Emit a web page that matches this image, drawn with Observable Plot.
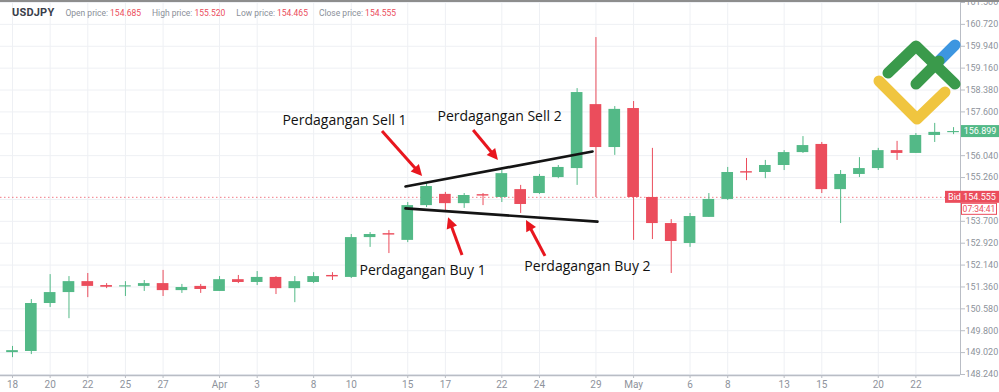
<!DOCTYPE html>
<html><head><meta charset="utf-8">
<script src="https://cdn.jsdelivr.net/npm/d3@7"></script>
<script src="https://cdn.jsdelivr.net/npm/@observablehq/plot@0.6"></script>
<style>
body{margin:0;background:#fff;}
#wrap{position:relative;width:999px;height:392px;overflow:hidden;font-family:Roboto,"Noto Sans",sans-serif;}
#topline{position:absolute;left:0;top:0;width:999px;height:2px;background:#8d8d8d;}
#hdr{position:absolute;left:12px;top:6px;font-size:8.5px;color:#8a8f99;white-space:nowrap;}
#hdr b{font-size:11px;color:#3a3e4a;margin-right:11px;letter-spacing:0.2px;}
#hdr span.l{margin-right:2px;}
#hdr span.v{color:#eb4d5c;margin-right:11px;}
#logo{position:absolute;left:0;top:0;}
</style></head><body>
<div id="wrap"><div id="chart"></div><div id="topline"></div>
<div id="hdr"><b>USDJPY</b><span class="l">Open price:</span><span class="v">154.685</span><span class="l">High price:</span><span class="v">155.520</span><span class="l">Low price:</span><span class="v">154.465</span><span class="l">Close price:</span><span class="v">154.555</span></div>
<svg id="logo" width="999" height="392">
<path d="M938,62 L955,45" stroke="#3d96e0" stroke-width="11" stroke-linecap="round" fill="none"/>
<path d="M879,81 L917,119 L945,92" stroke="#f0c53f" stroke-width="11" stroke-linecap="round" stroke-linejoin="round" fill="none"/>
<path d="M888,73 L916,46 L955,84" stroke="#3a9a4b" stroke-width="11" stroke-linecap="round" stroke-linejoin="round" fill="none"/>
<path d="M916,84 L939,61" stroke="#3a9a4b" stroke-width="11" stroke-linecap="round" fill="none"/>
</svg>
</div>
<script>
const dates = ["2024-03-18","2024-03-19","2024-03-20","2024-03-21","2024-03-22","2024-03-24","2024-03-25","2024-03-26","2024-03-27","2024-03-28","2024-03-29",
"2024-04-01","2024-04-02","2024-04-03","2024-04-04","2024-04-05","2024-04-08","2024-04-09","2024-04-10","2024-04-11","2024-04-12",
"2024-04-15","2024-04-16","2024-04-17","2024-04-18","2024-04-19","2024-04-22","2024-04-23","2024-04-24","2024-04-25","2024-04-26",
"2024-04-29","2024-04-30","2024-05-01","2024-05-02","2024-05-03","2024-05-06","2024-05-07","2024-05-08","2024-05-09","2024-05-10",
"2024-05-13","2024-05-14","2024-05-15","2024-05-16","2024-05-17","2024-05-20","2024-05-21","2024-05-22","2024-05-23","2024-05-24"];
const open  = [149.02,149.06,150.77,151.16,151.55,151.41,151.36,151.38,151.48,151.23,151.38,151.20,151.62,151.52,151.70,151.30,151.52,151.77,151.70,153.12,153.26,153.02,154.26,154.66,154.33,154.65,154.55,154.83,154.69,155.26,155.58,157.86,156.33,157.72,154.55,153.62,152.91,153.84,154.48,155.47,155.44,155.69,156.15,156.44,154.83,155.37,155.58,156.22,156.12,156.76,156.86];
const high  = [149.24,150.91,151.80,151.73,151.84,151.48,151.55,151.59,151.95,151.45,151.45,151.73,151.77,151.91,151.73,151.73,151.87,151.87,153.23,153.30,153.37,154.37,155.05,154.73,154.69,154.69,155.51,154.98,155.37,155.69,158.43,160.25,157.79,157.97,156.30,153.76,153.98,154.69,155.62,155.94,155.87,156.22,156.72,156.51,155.51,155.97,156.30,156.55,156.83,157.19,157.04];
const low   = [148.84,148.95,150.63,150.23,150.98,151.30,151.02,151.20,151.02,151.13,151.13,151.20,151.48,151.41,151.09,150.80,151.48,151.59,151.66,152.77,152.55,152.94,154.19,154.08,154.16,154.26,154.37,153.98,154.66,155.22,154.98,154.55,156.05,153.02,153.05,151.84,152.77,153.84,154.44,155.15,155.22,155.51,156.12,154.69,153.62,155.26,155.51,155.87,156.12,156.51,156.79];
const close = [149.09,150.77,151.16,151.55,151.38,151.35,151.40,151.48,151.23,151.34,151.27,151.62,151.52,151.70,151.30,151.55,151.73,151.72,153.12,153.23,153.21,154.26,154.94,154.33,154.62,154.60,155.40,154.30,155.30,155.62,158.29,156.33,157.69,154.55,153.62,152.98,153.87,154.48,155.44,155.42,155.69,156.15,156.40,154.83,155.37,155.58,156.22,156.12,156.76,156.87,156.90];

const tickDates  = ["2024-03-18","2024-03-20","2024-03-22","2024-03-25","2024-03-27","2024-04-01","2024-04-03","2024-04-08","2024-04-10","2024-04-15","2024-04-17","2024-04-22","2024-04-24","2024-04-29","2024-05-01","2024-05-06","2024-05-08","2024-05-13","2024-05-15","2024-05-20","2024-05-22"];
const tickLabels = ["18","20","22","25","27","Apr","3","8","10","15","17","22","24","29","May","6","8","13","15","20","22"];
const yGrid  = [161.5,160.72,159.94,159.16,158.38,157.6,156.82,156.04,155.26,154.48,153.7,152.92,152.14,151.36,150.58,149.8,149.02,148.24];
const yTicks = [161.5,160.72,159.94,159.16,158.38,157.6,156.04,155.26,153.7,152.92,152.14,151.36,150.58,149.8,149.02,148.24];

const bidPrice = 154.555;
const lastPrice = 156.899;
const timerText = "07:34:41";

// trend lines (candle index, price)
const upperLineX = [20.88, 30.82], upperLineY = [154.94, 156.19];
const lowerLineX = [20.88, 31.08], lowerLineY = [154.16, 153.69];

// annotations
const noteText = ["Perdagangan Sell 1","Perdagangan Sell 2","Perdagangan Buy 1","Perdagangan Buy 2"];
const noteX = [17.64, 25.88, 21.79, 30.55];
const noteY = [157.29, 157.44, 151.95, 152.09];
const arrowX1 = [19.66, 24.50, 23.91, 28.32], arrowY1 = [156.90, 156.94, 152.48, 152.45];
const arrowX2 = [21.79, 25.82, 23.17, 27.31], arrowY2 = [155.30, 155.87, 153.83, 153.73];

const UP = "#53b987", DOWN = "#eb4d5c";
const candles = dates.map((d, i) => ({i, d, o: open[i], h: high[i], l: low[i], c: close[i], col: close[i] >= open[i] ? UP : DOWN}));
const tickIdx = tickDates.map(d => dates.indexOf(d));
const xDom = [-0.638, 50.37], yDom = [148.204, 161.571];
const notes = noteText.map((t, k) => ({t, x: noteX[k], y: noteY[k]}));
const arrows = noteText.map((t, k) => ({x1: arrowX1[k], y1: arrowY1[k], x2: arrowX2[k], y2: arrowY2[k]}));
const trend = [
  ...upperLineX.map((x, k) => ({x, y: upperLineY[k], s: "u"})),
  ...lowerLineX.map((x, k) => ({x, y: lowerLineY[k], s: "l"}))
];

const chart = Plot.plot({
  width: 999, height: 392,
  marginTop: 0, marginBottom: 17, marginLeft: 0, marginRight: 39,
  style: {fontFamily: "Roboto, 'Noto Sans', sans-serif", fontSize: "10px", background: "transparent", overflow: "visible"},
  x: {type: "linear", domain: xDom, axis: null},
  y: {domain: yDom, axis: null},
  color: {type: "identity"},
  marks: [
    Plot.ruleX(tickIdx, {x: d => d, y1: yDom[0], y2: yDom[1], stroke: "#eef0f4"}),
    Plot.ruleY(yGrid, {y: d => d, x1: xDom[0], x2: xDom[1], stroke: "#eef0f4"}),
    Plot.ruleY([bidPrice], {x1: xDom[0], x2: xDom[1], stroke: DOWN, strokeDasharray: "1.5,2.5", strokeOpacity: 0.75}),
    Plot.ruleX(candles, {x: "i", y1: "l", y2: "h", stroke: "col", strokeWidth: 1}),
    Plot.rect(candles, {x1: d => d.i - 0.31, x2: d => d.i + 0.31, y1: "o", y2: "c", fill: "col"}),
    Plot.line(trend, {x: "x", y: "y", z: "s", stroke: "#141414", strokeWidth: 2.6}),
    Plot.ruleX([xDom[1]], {y1: yDom[0], y2: yDom[1], stroke: "#b9bdc5"}),
    Plot.ruleY([yDom[0]], {x1: xDom[0], x2: xDom[1], stroke: "#b9bdc5", strokeWidth: 1.5}),
    Plot.axisX(tickIdx, {x: d => d, tickSize: 3, tickPadding: 2, stroke: "#b9bdc5", fill: "#8e939c",
      tickFormat: v => tickLabels[tickIdx.indexOf(v)], fontSize: 10}),
    Plot.axisY(yTicks, {anchor: "right", tickSize: 4, tickPadding: 1, stroke: "#b9bdc5", fill: "#8e939c",
      tickFormat: d3.format(".3f"), fontSize: 9}),
    Plot.text(notes, {x: "x", y: "y", text: "t", fill: "#111", fontSize: 14, fontWeight: 500, fontFamily: "'Open Sans', 'Noto Sans', sans-serif"}),
    (index, scales) => {
      const g = d3.create("svg:g");
      for (const a of arrows) {
        const x1 = scales.x(a.x1), y1 = scales.y(a.y1), x2 = scales.x(a.x2), y2 = scales.y(a.y2);
        const dx = x2 - x1, dy = y2 - y1, len = Math.hypot(dx, dy), ux = dx / len, uy = dy / len;
        const hl = 11, hw = 5.5;
        const bx = x2 - ux * hl, by = y2 - uy * hl;
        g.append("line").attr("x1", x1).attr("y1", y1).attr("x2", bx + ux).attr("y2", by + uy)
          .attr("stroke", "#e8161e").attr("stroke-width", 3);
        g.append("path").attr("d", `M${x2},${y2}L${bx - uy * hw},${by + ux * hw}L${bx + uy * hw},${by - ux * hw}Z`)
          .attr("fill", "#e8161e");
      }
      // price labels on right axis
      const xr = scales.x(xDom[1]);
      const yl = scales.y(lastPrice), yb = scales.y(bidPrice);
      g.append("rect").attr("x", xr + 1).attr("y", yl - 6).attr("width", 38).attr("height", 12).attr("fill", UP);
      g.append("text").attr("x", xr + 20).attr("y", yl).attr("dy", "0.35em").attr("text-anchor", "middle")
        .attr("fill", "#fff").attr("font-size", 9).text(lastPrice.toFixed(3));
      g.append("rect").attr("x", xr - 15).attr("y", yb - 6).attr("width", 54).attr("height", 12).attr("fill", DOWN);
      g.append("text").attr("x", xr + 12).attr("y", yb).attr("dy", "0.35em").attr("text-anchor", "middle")
        .attr("fill", "#fff").attr("font-size", 9).text("Bid " + bidPrice.toFixed(3));
      g.append("rect").attr("x", xr + 1.5).attr("y", yb + 6.5).attr("width", 35).attr("height", 11).attr("fill", "#fff")
        .attr("stroke", DOWN).attr("stroke-width", 1);
      g.append("text").attr("x", xr + 19).attr("y", yb + 12).attr("dy", "0.35em").attr("text-anchor", "middle")
        .attr("fill", DOWN).attr("font-size", 8.5).text(timerText);
      return g.node();
    }
  ]
});
document.getElementById("chart").appendChild(chart);
</script>
</body></html>
